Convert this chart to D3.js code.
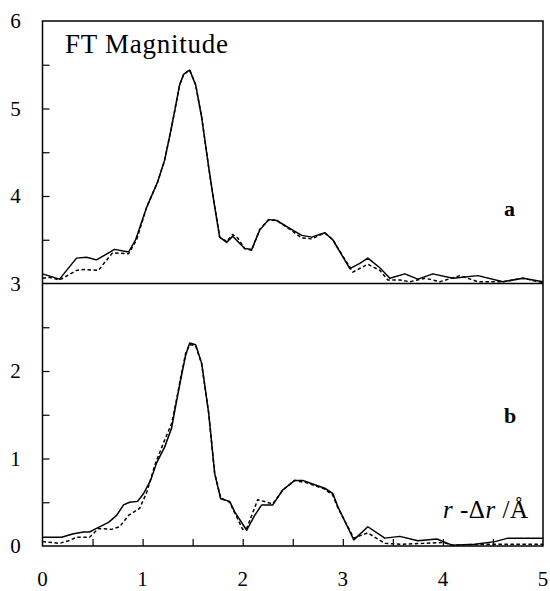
<!DOCTYPE html>
<html><head><meta charset="utf-8">
<script src="https://cdn.jsdelivr.net/npm/d3@7"></script>
<style>body{margin:0;background:#fff}svg{display:block}</style>
</head><body><svg id="c" width="550" height="591" font-family="Liberation Serif, serif"></svg>
<script>
// r - Δr (Å)
const rASolid = [0.00,0.17,0.34,0.44,0.54,0.72,0.86,0.93,1.04,1.15,1.22,1.29,1.37,1.41,1.47,1.53,1.59,1.66,1.71,1.77,1.84,1.90,2.02,2.09,2.17,2.26,2.34,2.47,2.59,2.69,2.82,2.90,3.07,3.17,3.25,3.37,3.47,3.62,3.75,3.90,4.10,4.35,4.60,4.80,5.00];
const aSolid  = [3.11,3.05,3.29,3.30,3.27,3.39,3.36,3.50,3.87,4.16,4.41,4.79,5.27,5.39,5.44,5.27,4.90,4.33,3.95,3.53,3.47,3.54,3.40,3.39,3.61,3.73,3.72,3.63,3.55,3.53,3.58,3.50,3.17,3.23,3.29,3.18,3.06,3.11,3.05,3.11,3.06,3.09,3.02,3.06,3.02];
const rADash  = [0.00,0.07,0.17,0.34,0.42,0.56,0.62,0.70,0.86,0.94,1.04,1.15,1.22,1.29,1.37,1.41,1.47,1.53,1.59,1.66,1.71,1.77,1.84,1.90,1.95,2.02,2.09,2.17,2.26,2.34,2.47,2.59,2.69,2.82,2.90,3.10,3.25,3.37,3.45,3.57,3.67,3.82,3.90,3.97,4.17,4.35,4.60,4.80,5.00];
const aDash   = [3.06,3.07,3.04,3.15,3.16,3.15,3.24,3.35,3.34,3.50,3.87,4.16,4.41,4.79,5.27,5.39,5.44,5.27,4.90,4.33,3.95,3.53,3.48,3.56,3.52,3.40,3.38,3.62,3.73,3.72,3.62,3.52,3.51,3.58,3.50,3.13,3.22,3.15,3.04,3.04,3.02,3.06,3.04,3.02,3.09,3.02,3.02,3.06,3.01];
const rBSolid = [0.00,0.19,0.31,0.41,0.47,0.52,0.66,0.74,0.81,0.87,0.95,1.01,1.08,1.14,1.22,1.29,1.33,1.38,1.43,1.47,1.53,1.59,1.66,1.72,1.78,1.87,1.92,2.04,2.12,2.19,2.30,2.40,2.52,2.60,2.67,2.82,2.90,2.95,3.11,3.25,3.42,3.57,3.75,3.94,4.09,4.32,4.52,4.65,5.00];
const bSolid  = [0.10,0.10,0.14,0.16,0.16,0.19,0.27,0.35,0.47,0.50,0.51,0.60,0.75,0.95,1.13,1.35,1.60,1.90,2.18,2.32,2.30,2.09,1.52,0.83,0.54,0.51,0.39,0.18,0.35,0.47,0.47,0.64,0.75,0.75,0.72,0.66,0.60,0.45,0.07,0.22,0.09,0.11,0.06,0.08,0.01,0.02,0.05,0.09,0.09];
const rBDash  = [0.00,0.17,0.26,0.34,0.47,0.56,0.69,0.77,0.86,0.97,1.04,1.13,1.22,1.29,1.33,1.38,1.43,1.47,1.53,1.59,1.66,1.72,1.78,1.87,1.92,2.00,2.04,2.15,2.24,2.30,2.40,2.52,2.65,2.82,2.90,2.95,3.11,3.25,3.42,3.60,3.80,4.00,4.10,4.40,4.70,5.00];
const bDash   = [0.05,0.03,0.06,0.10,0.10,0.20,0.19,0.22,0.35,0.43,0.61,0.95,1.21,1.40,1.62,1.92,2.20,2.30,2.29,2.08,1.52,0.83,0.55,0.50,0.38,0.19,0.20,0.53,0.50,0.48,0.64,0.75,0.72,0.65,0.58,0.44,0.09,0.15,0.03,0.02,0.03,0.04,0.01,0.02,0.02,0.02];
const xTickLabels = [0,1,2,3,4,5];
const yTickLabels = [0,1,2,3,4,5,6];
const minorTicks = [0.5,1,1.5,2,2.5,3,3.5,4,4.5,5,5.5];

const svg = d3.select("#c");
const F = "Liberation Serif, serif";
const L=42.5, R=543, T=21, B=546;
const x = d3.scaleLinear().domain([0,5]).range([L,R]);
const y = d3.scaleLinear().domain([0,6]).range([B,T]);

// frame
const g = svg.append("g").attr("stroke","#000").attr("fill","none");
g.append("rect").attr("x",L).attr("y",T).attr("width",R-L).attr("height",B-T).attr("stroke-width",1.5);
g.append("line").attr("x1",L).attr("x2",R).attr("y1",y(3)).attr("y2",y(3)).attr("stroke-width",1.5);

// inner ticks
svg.append("g").attr("transform",`translate(${L},0)`)
  .call(d3.axisRight(y).tickValues(minorTicks.filter(v=>v!==3)).tickSize(7).tickFormat(""))
  .call(s=>{s.select(".domain").remove(); s.selectAll("line").attr("stroke","#000").attr("stroke-width",1.2);});
svg.append("g").attr("transform",`translate(0,${B})`)
  .call(d3.axisTop(x).tickValues(minorTicks.filter(v=>v<5)).tickSize(7).tickFormat(""))
  .call(s=>{s.select(".domain").remove(); s.selectAll("line").attr("stroke","#000").attr("stroke-width",1.2);});

// tick labels
svg.append("g").selectAll("text").data(yTickLabels).join("text")
  .attr("font-family",F).attr("x",15.5).attr("y",d=>y(d)+7).attr("text-anchor","middle")
  .attr("font-size",21).text(d=>d);
svg.append("g").selectAll("text").data(xTickLabels).join("text")
  .attr("font-family",F).attr("x",d=>x(d)).attr("y",586).attr("text-anchor","middle")
  .attr("font-size",21).text(d=>d);

// curves
const line = d3.line().x(d=>x(d[0])).y(d=>y(d[1]));
const zip = (a,b)=>a.map((v,i)=>[v,b[i]]);
const curves = [
  [zip(rADash,aDash),"3.5,2.5"],
  [zip(rBDash,bDash),"3.5,2.5"],
  [zip(rASolid,aSolid),null],
  [zip(rBSolid,bSolid),null]
];
curves.forEach(([d,dash])=>{
  const p = svg.append("path").datum(d).attr("d",line).attr("fill","none")
    .attr("stroke","#000").attr("stroke-width",1.5).attr("stroke-linejoin","round");
  if(dash) p.attr("stroke-dasharray",dash);
});

// annotations
svg.append("text").attr("font-family",F).attr("x",65).attr("y",53).attr("font-size",27)
  .attr("textLength",163).attr("lengthAdjust","spacing").text("FT Magnitude");
svg.append("text").attr("font-family",F).attr("x",504).attr("y",216).attr("font-size",22).attr("font-weight","bold").text("a");
svg.append("text").attr("font-family",F).attr("x",504).attr("y",423).attr("font-size",22).attr("font-weight","bold").text("b");
const lab = svg.append("text").attr("font-family",F).attr("x",443).attr("y",518).attr("font-size",25)
  .attr("textLength",85).attr("lengthAdjust","spacing");
lab.append("tspan").attr("font-style","italic").text("r");
lab.append("tspan").text(" -Δ");
lab.append("tspan").attr("font-style","italic").text("r");
lab.append("tspan").text(" /Å");
</script></body></html>
